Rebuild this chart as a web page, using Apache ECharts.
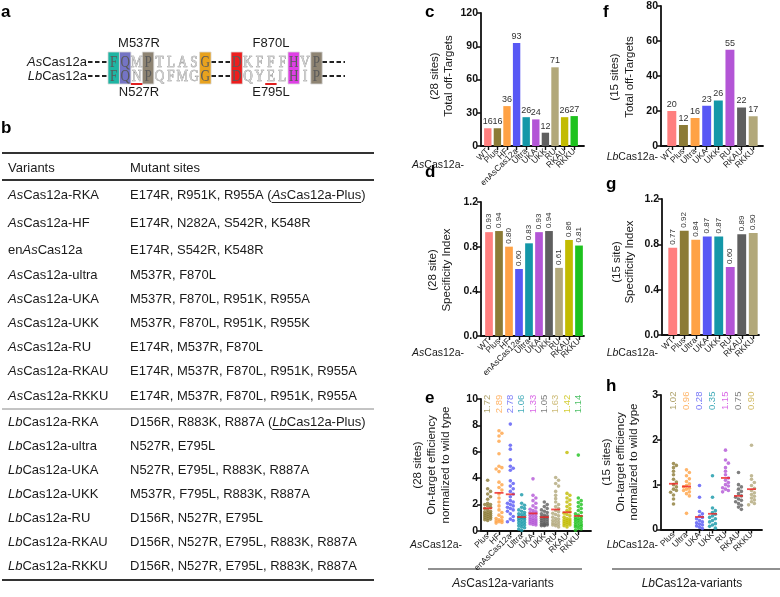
<!DOCTYPE html>
<html><head><meta charset="utf-8">
<script src="https://cdn.jsdelivr.net/npm/echarts/dist/echarts.min.js"></script>
<style>html,body{margin:0;padding:0;background:#fff}#c{width:780px;height:597px}</style>
</head><body><div id="c"></div>
<script>
// ---------------- DATA ----------------
const asCats = ['WT','Plus','HF','enAsCas12a','Ultra','UKA','UKK','RU','RKAU','RKKU'];
const asOffTargets = [16,16,36,93,26,24,12,71,26,27];
const asSpecificity = [0.93,0.94,0.80,0.60,0.83,0.93,0.94,0.61,0.86,0.81];
const lbCats = ['WT','Plus','Ultra','UKA','UKK','RU','RKAU','RKKU'];
const lbOffTargets = [20,12,16,23,26,55,22,17];
const lbSpecificity = [0.77,0.92,0.84,0.87,0.87,0.60,0.89,0.90];

const asEffCats = ['Plus','HF','enAsCas12a','Ultra','UKA','UKK','RU','RKAU','RKKU'];
const asEffMeans = [1.72,2.89,2.78,1.06,1.33,1.05,1.63,1.42,1.14];
const asEffPlus = [3.85,3.2,3.0,2.8,2.6,2.4,2.1,2.0,2.0,1.9,1.8,1.7,1.6,1.5,1.45,1.4,1.35,1.3,1.25,1.2,1.15,1.1,1.05,1.0,0.95,0.9,0.85,0.8];
const asEffHF = [7.6,7.4,7.2,6.8,5.85,4.9,4.8,4.7,4.5,3.7,3.5,3.3,3.1,2.8,2.5,2.2,1.9,1.6,1.4,1.2,1.05,0.95,0.85,0.8,0.75,0.7,0.65,0.6];
const asEffEn = [8.1,6.5,6.2,5.4,4.9,4.75,4.6,3.8,3.6,3.4,3.2,3.0,2.8,2.6,2.3,2.2,2.1,2.0,1.9,1.8,1.7,1.6,1.5,1.3,1.1,0.9,0.8,0.7];
const asEffUltra = [2.75,2.1,1.95,1.8,1.7,1.6,1.5,1.4,1.3,1.25,1.2,1.1,1.05,1.0,0.95,0.9,0.85,0.8,0.7,0.65,0.6,0.5,0.45,0.4,0.3,0.25,0.15,0.05];
const asEffUKA = [3.95,2.7,2.5,2.3,2.1,1.9,1.75,1.65,1.55,1.45,1.4,1.35,1.3,1.2,1.15,1.1,1.0,0.95,0.9,0.85,0.8,0.75,0.7,0.65,0.6,0.55,0.5,0.45];
const asEffUKK = [2.2,2.0,1.85,1.7,1.6,1.5,1.4,1.3,1.2,1.15,1.1,1.05,1.0,0.95,0.9,0.85,0.8,0.75,0.7,0.65,0.6,0.55,0.5,0.5,0.45,0.45,0.4,0.4];
const asEffRU = [4.05,3.85,3.6,3.4,3.0,2.7,2.45,2.2,2.0,1.85,1.7,1.55,1.45,1.35,1.25,1.15,1.05,0.95,0.9,0.8,0.75,0.7,0.6,0.55,0.5,0.45,0.4,0.3];
const asEffRKAU = [5.95,2.85,2.7,2.5,2.35,2.2,2.0,1.85,1.7,1.55,1.45,1.35,1.25,1.15,1.05,0.95,0.9,0.85,0.8,0.75,0.7,0.65,0.6,0.55,0.5,0.45,0.4,0.3];
const asEffRKKU = [5.75,2.5,2.3,2.15,2.0,1.85,1.7,1.55,1.4,1.3,1.2,1.1,1.0,0.95,0.9,0.85,0.8,0.7,0.65,0.6,0.5,0.45,0.4,0.35,0.3,0.2,0.15,0.05];

const lbEffCats = ['Plus','Ultra','UKA','UKK','RU','RKAU','RKKU'];
const lbEffMeans = [1.02,0.96,0.28,0.35,1.15,0.75,0.90];
const lbEffPlus = [1.47,1.43,1.38,1.3,1.22,1.12,1.06,1.0,0.95,0.9,0.87,0.83,0.77,0.68,0.57];
const lbEffUltra = [1.33,1.27,1.2,1.13,1.07,1.02,0.98,0.95,0.92,0.9,0.87,0.84,0.8,0.75,0.36];
const lbEffUKA = [0.98,0.72,0.4,0.35,0.3,0.27,0.24,0.2,0.17,0.15,0.12,0.1,0.08,0.05,0.02];
const lbEffUKK = [1.2,0.72,0.48,0.42,0.38,0.34,0.3,0.27,0.24,0.2,0.17,0.13,0.1,0.07,0.03];
const lbEffRU = [1.77,1.55,1.48,1.38,1.3,1.22,1.15,1.1,1.05,1.0,0.97,0.93,0.9,0.87,0.84];
const lbEffRKAU = [1.27,1.0,0.95,0.9,0.85,0.8,0.75,0.72,0.68,0.65,0.62,0.58,0.54,0.5,0.45];
const lbEffRKKU = [1.88,1.2,1.12,1.05,0.98,0.92,0.87,0.82,0.78,0.74,0.7,0.66,0.62,0.58,0.55];

const asSeqTop = 'FQMPTLASG', asSeqBot = 'DKFFFHVP';
const lbSeqTop = 'FQNPQFMGG', lbSeqBot = 'DQYELHIP';

const tableVariants = ['AsCas12a-RKA','AsCas12a-HF','enAsCas12a','AsCas12a-ultra','AsCas12a-UKA','AsCas12a-UKK','AsCas12a-RU','AsCas12a-RKAU','AsCas12a-RKKU','LbCas12a-RKA','LbCas12a-ultra','LbCas12a-UKA','LbCas12a-UKK','LbCas12a-RU','LbCas12a-RKAU','LbCas12a-RKKU'];
const tableSites = ['E174R, R951K, R955A (AsCas12a-Plus)','E174R, N282A, S542R, K548R','E174R, S542R, K548R','M537R, F870L','M537R, F870L, R951K, R955A','M537R, F870L, R951K, R955K','E174R, M537R, F870L','E174R, M537R, F870L, R951K, R955A','E174R, M537R, F870L, R951K, R955A','D156R, R883K, R887A (LbCas12a-Plus)','N527R, E795L','N527R, E795L, R883K, R887A','M537R, F795L, R883K, R887A','D156R, N527R, E795L','D156R, N527R, E795L, R883K, R887A','D156R, N527R, E795L, R883K, R887A'];

// ---------------- STYLE ----------------
const FONT = '"Liberation Sans", Arial, Helvetica, sans-serif';
const C = {wt:'#ff7f7f', plus:'#8c7b36', orange:'#ffa245', blue:'#5858f5', teal:'#1497a8', purple:'#b355d6', grey:'#5f5f5f', khaki:'#b2a87a', yel:'#c2bb00', green:'#1ec21e'};
const asColors = [C.wt,C.plus,C.orange,C.blue,C.teal,C.purple,C.grey,C.khaki,C.yel,C.green];
const lbColors = [C.wt,C.plus,C.orange,C.blue,C.teal,C.purple,C.grey,C.khaki];
const asEffColors = asColors.slice(1);
const lbEffColors = lbColors.slice(1);
const asLabelColors = ['#9a8a45','#ffa245','#5858f5','#1497a8','#d040e0','#5f5f5f','#c0aa55','#c8c000','#20b040'];
const lbLabelColors = ['#9a8a45','#ffa245','#5858f5','#1497a8','#d040e0','#5f5f5f','#c8aa40'];

const grids=[], xAxes=[], yAxes=[], series=[], G=[];

function addPanel(cfg){
  const gA = grids.length;
  grids.push({left:cfg.axL, top:cfg.top, width:cfg.axW, height:cfg.h, outerBoundsMode:'none', containLabel:false});
  const gP = grids.length;
  grids.push({left:cfg.pL, top:cfg.top, width:cfg.pW, height:cfg.h, outerBoundsMode:'none', containLabel:false});
  xAxes.push({gridIndex:gA, type:'value', min:0, max:1, axisLine:{show:true,onZero:false,lineStyle:{color:'#111',width:1.8}}, axisTick:{show:false}, axisLabel:{show:false}, splitLine:{show:false}});
  const xC = xAxes.length;
  xAxes.push({gridIndex:gP, type:'category', data:cfg.cats, axisLine:{show:false}, axisTick:{show:true,alignWithLabel:true,length:4,lineStyle:{color:'#111',width:1.4}}, axisLabel:{interval:0,rotate:45,fontSize:8.5,margin:4,color:'#222',fontFamily:FONT}, splitLine:{show:false}});
  let xV = null;
  if (cfg.scatter){ xV = xAxes.length; xAxes.push({gridIndex:gP, type:'value', position:'top', min:-0.5, max:cfg.cats.length-0.5, show:false}); }
  yAxes.push({gridIndex:gA, type:'value', min:cfg.ymin, max:cfg.ymax, interval:cfg.interval, axisLine:{show:true,onZero:false,lineStyle:{color:'#111',width:1.8}}, axisTick:{show:true,length:4,lineStyle:{color:'#111',width:1.5}}, axisLabel:{fontSize:10.5,fontWeight:'bold',color:'#111',margin:3,fontFamily:FONT,formatter:cfg.fmt}, splitLine:{show:false}});
  const yP = yAxes.length;
  yAxes.push({gridIndex:gP, type:'value', min:cfg.ymin, max:cfg.ymax, show:false});
  return {xC,xV,yP};
}

function barSeries(p, vals, colors, rotated){
  series.push({type:'bar', xAxisIndex:p.xC, yAxisIndex:p.yP, barWidth:'77%',
    data: vals.map((v,i)=>({value:v, itemStyle:{color:colors[i]}})),
    label: rotated ? {show:true, position:'top', rotate:90, align:'left', verticalAlign:'middle', distance:3, fontSize:8, color:'#333', fontFamily:FONT, formatter:q=>q.value.toFixed(2)}
                   : {show:true, position:'top', distance:2, fontSize:9, color:'#333', fontFamily:FONT}
  });
}

function swarm(vals, ppu, dot, maxDx){
  const order = vals.map((v,k)=>k).sort((a,b)=>vals[b]-vals[a]);
  const placed=[], out=new Array(vals.length), step=dot*0.8, cands=[0];
  for (let j=1; j*step<=maxDx; j++){ cands.push(j*step, -j*step); }
  order.forEach(k=>{
    const y = vals[k]*ppu; let best=0, bestD=-1;
    for (const dx of cands){
      let dmin=Infinity;
      for (const q of placed){ const d=Math.hypot(q[0]-dx,q[1]-y); if(d<dmin) dmin=d; }
      if (dmin>=dot*0.9){ best=dx; break; }
      if (dmin>bestD){ bestD=dmin; best=dx; }
    }
    placed.push([best,y]); out[k]=best;
  });
  return out;
}

function dotSeries(p, groups, colors, means, labelColors, cfg){
  const band = cfg.pW/groups.length, ppu = cfg.h/(cfg.ymax-cfg.ymin), dot=3.6;
  groups.forEach((vals,i)=>{
    const offs = swarm(vals, ppu, dot, band*0.42);
    series.push({type:'scatter', xAxisIndex:p.xV, yAxisIndex:p.yP, symbolSize:dot, itemStyle:{color:colors[i]}, z:3,
      data: vals.map((v,k)=>[i+offs[k]/band, v])});
  });
  series.push({type:'scatter', xAxisIndex:p.xC, yAxisIndex:p.yP, symbol:'rect', symbolSize:[9,1.8], itemStyle:{color:'#ee2020'}, z:6,
    data: means.map((m,i)=>[i,m])});
  series.push({type:'scatter', xAxisIndex:p.xC, yAxisIndex:p.yP, symbolSize:1, itemStyle:{color:'rgba(0,0,0,0)'}, z:6,
    data: means.map((m,i)=>({value:[i, cfg.labelY], label:{color:labelColors[i]}})),
    label:{show:true, position:'inside', rotate:90, fontSize:9.5, fontFamily:FONT, formatter:q=>means[q.dataIndex].toFixed(2)}});
}

// ---------------- PANELS ----------------
const M = 21; // middle column offset
const cfgC = {axL:460+M,axW:103,pL:462+M,pW:96,top:13,h:133,ymin:0,ymax:120,interval:30,cats:asCats};
barSeries(addPanel(cfgC), asOffTargets, asColors, false);
const cfgD = {axL:460+M,axW:103,pL:463+M,pW:100,top:202,h:134,ymin:0,ymax:1.2,interval:0.4,cats:asCats,fmt:v=>v.toFixed(1)};
barSeries(addPanel(cfgD), asSpecificity, asColors, true);
const cfgE = {axL:460+M,axW:110,pL:461+M,pW:102,top:399,h:132,ymin:0,ymax:10,interval:2,cats:asEffCats,scatter:true,labelY:9.62};
dotSeries(addPanel(cfgE), [asEffPlus,asEffHF,asEffEn,asEffUltra,asEffUKA,asEffUKK,asEffRU,asEffRKAU,asEffRKKU], asEffColors, asEffMeans, asLabelColors, cfgE);
const cfgF = {axL:661,axW:102,pL:666,pW:93,top:6,h:140,ymin:0,ymax:80,interval:20,cats:lbCats};
barSeries(addPanel(cfgF), lbOffTargets, lbColors, false);
const cfgG = {axL:662,axW:97,pL:667,pW:92,top:199,h:136,ymin:0,ymax:1.2,interval:0.4,cats:lbCats,fmt:v=>v.toFixed(1)};
barSeries(addPanel(cfgG), lbSpecificity, lbColors, true);
const cfgH = {axL:661,axW:101,pL:667,pW:91,top:395,h:134.5,ymin:0,ymax:3,interval:1,cats:lbEffCats,scatter:true,labelY:2.87};
dotSeries(addPanel(cfgH), [lbEffPlus,lbEffUltra,lbEffUKA,lbEffUKK,lbEffRU,lbEffRKAU,lbEffRKKU], lbEffColors, lbEffMeans, lbLabelColors, cfgH);

// ---------------- GRAPHIC TEXT / TABLE / ALIGNMENT ----------------
function txt(x,y,text,o){
  o=o||{};
  const size=o.size||12, weight=o.weight||'normal', fam=o.family||FONT, fill=o.color||'#1a1a1a';
  const al=o.align||'left', va=o.va||'middle';
  const st={text, fill, fontSize:size, fontWeight:weight, fontFamily:fam, fontStyle:o.style||'normal',
    align:al, textAlign:al, verticalAlign:va, textVerticalAlign:va};
  if (o.rich) st.rich={i:{fontStyle:'italic',fontSize:size,fontFamily:fam,fill, fontWeight:weight}};
  if (o.stroke){ st.stroke=o.stroke; st.lineWidth=o.lw||0.6; }
  G.push({type:'text', x, y, rotation:o.rot||0, scaleX:o.sx||1, style:st, z:20, silent:true});
}
function line(x1,y1,x2,y2,o){
  o=o||{};
  G.push({type:'line', shape:{x1,y1,x2,y2}, style:{stroke:o.color||'#222', lineWidth:o.w||1, lineDash:o.dash||null}, z:15, silent:true});
}
function rect(x,y,w,h,fill){
  G.push({type:'rect', shape:{x,y,width:w,height:h}, style:{fill, stroke:'#d8d8d8', lineWidth:0.8}, z:12, silent:true});
}
const ital = s => s.replace(/(As|Lb)(?=Cas)/g,'{i|$1}');

// panel letters
[['a',1,12],['b',1,128],['c',404+M,12],['d',404+M,172],['e',404+M,398],['f',603,12],['g',606,184],['h',606,386]]
  .forEach(([t,x,y])=>txt(x,y,t,{size:17,weight:'bold',color:'#000'}));

// ---- panel a: alignment ----
const rowAs=62, rowLb=76, boxTop=52, boxH=32;
const b1x=108, w1=11.45, b2x=231, w2=11.4;
const boxes1={0:'#1fb5a3',1:'#7474c4',3:'#8e8473',8:'#e8a21e'};
const boxes2={0:'#ee1d1d',5:'#df3fe6',7:'#8e8473'};
Object.keys(boxes1).forEach(k=>rect(b1x+k*w1, boxTop, w1, boxH, boxes1[k]));
Object.keys(boxes2).forEach(k=>rect(b2x+k*w2, boxTop, w2, boxH, boxes2[k]));
function seqRow(seq, x0, w, y, boxes){
  for (let k=0;k<seq.length;k++){
    const boxed = boxes[k]!==undefined;
    txt(x0+(k+0.5)*w, y+1, seq[k], {family:'"Liberation Serif","DejaVu Serif",serif', size:16, align:'center', sx:0.82,
      color: boxed?'#5a5a5a':'#cfcfcf', stroke: boxed?null:'#808080', lw:0.6});
  }
}
seqRow(asSeqTop,b1x,w1,rowAs,boxes1); seqRow(asSeqBot,b2x,w2,rowAs,boxes2);
seqRow(lbSeqTop,b1x,w1,rowLb,boxes1); seqRow(lbSeqBot,b2x,w2,rowLb,boxes2);
[rowAs,rowLb].forEach(y=>{
  [[88,107],[211.5,230],[322.5,345]].forEach(([a,b])=>line(a,y,b,y,{w:1.8,dash:[4.5,2.5],color:'#222'}));
});
txt(87,rowAs,'{i|As}Cas12a',{size:13,align:'right',rich:true});
txt(87,rowLb,'{i|Lb}Cas12a',{size:13,align:'right',rich:true});
txt(139,43,'M537R',{size:13,align:'center'});
txt(271,43,'F870L',{size:13,align:'center'});
txt(139,92,'N527R',{size:13,align:'center'});
txt(271,92,'E795L',{size:13,align:'center'});
line(b1x+2*w1, 84, b1x+3*w1, 84, {w:2, color:'#e02020'});
line(b2x+3*w2, 84, b2x+4*w2, 84, {w:2, color:'#e02020'});

// ---- panel b: table ----
const cv=document.createElement('canvas').getContext('2d');
function tw(s, italic){ cv.font=(italic?'italic ':'')+'13px "Liberation Sans", Arial'; return cv.measureText(s).width; }
const rowYs=[195,223,250,275,299,323,347,371,396,422,446,470,494,518,542,566];
line(2,153,374,153,{w:2,color:'#333'});
txt(8,168,'Variants',{size:13});
txt(130,168,'Mutant sites',{size:13});
line(2,180,374,180,{w:2,color:'#333'});
tableVariants.forEach((v,i)=>{
  const y=rowYs[i];
  txt(8,y,ital(v),{size:13,rich:true});
  const s=tableSites[i];
  txt(130,y,ital(s),{size:13,rich:true});
  const p=s.indexOf('(');
  if (p>=0){
    const pre=s.slice(0,p+1), und=s.slice(p+1,s.indexOf(')'));
    const x0=130+tw(pre,false);
    const w=tw(und.slice(0,2),true)+tw(und.slice(2),false);
    line(x0,y+7.5,x0+w,y+7.5,{w:1,color:'#222'});
  }
});
line(2,409,374,409,{w:1,color:'#888'});
line(2,580,374,580,{w:2,color:'#333'});

// ---- axis titles ----
const R=Math.PI/2, ts=11.5;
txt(414+M,76,'(28 sites)',{size:ts,align:'center',rot:R});
txt(428+M,76,'Total off-Targets',{size:ts,align:'center',rot:R});
txt(412+M,270,'(28 site)',{size:ts,align:'center',rot:R});
txt(426+M,270,'Specificity Index',{size:ts,align:'center',rot:R});
txt(397+M,465,'(28 sites)',{size:ts,align:'center',rot:R});
txt(411+M,465,'On-target efficiency',{size:ts,align:'center',rot:R});
txt(425+M,465,'normalized to wild type',{size:ts,align:'center',rot:R});
txt(615,77,'(15 sites)',{size:ts,align:'center',rot:R});
txt(630,77,'Total off-Targets',{size:ts,align:'center',rot:R});
txt(617,262,'(15 site)',{size:ts,align:'center',rot:R});
txt(630,262,'Specificity Index',{size:ts,align:'center',rot:R});
txt(607,462,'(15 sites)',{size:ts,align:'center',rot:R});
txt(621,462,'On-target efficiency',{size:ts,align:'center',rot:R});
txt(634,462,'normalized to wild type',{size:ts,align:'center',rot:R});

// ---- prefixes ----
[[464,165],[464,353],[462,545]].forEach(([x,y])=>txt(x,y,'{i|As}Cas12a-',{size:10.5,align:'right',rich:true}));
[[658,157],[658,353],[658,545]].forEach(([x,y])=>txt(x,y,'{i|Lb}Cas12a-',{size:10.5,align:'right',rich:true}));

// ---- bottom group labels ----
line(428,569,582,569,{w:1.2,color:'#222'});
txt(503,584,'{i|As}Cas12a-variants',{size:12,align:'center',rich:true});
line(612,569,780,569,{w:1.2,color:'#222'});
txt(692,584,'{i|Lb}Cas12a-variants',{size:12,align:'center',rich:true});

const chart = echarts.init(document.getElementById('c'), null, {renderer:'canvas', width:780, height:597});
chart.setOption({animation:false, backgroundColor:'#fff', grid:grids, xAxis:xAxes, yAxis:yAxes, series, graphic:{elements:G}});
</script></body></html>
